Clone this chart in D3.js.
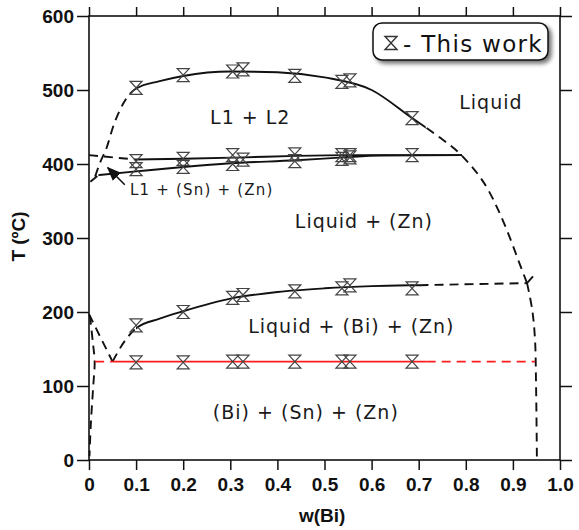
<!DOCTYPE html>
<html><head><meta charset="utf-8">
<script src="https://cdn.jsdelivr.net/npm/d3@7"></script>
<style>body{margin:0;background:#fff}svg{display:block}</style>
</head><body><svg id="c" width="579" height="530"></svg>
<script>
// ---- data ----
const xTicks = [0,0.1,0.2,0.3,0.4,0.5,0.6,0.7,0.8,0.9,1.0];
const yTicks = [0,100,200,300,400,500,600];
// measured points (This work)
const wBi     = [0.1,0.2,0.305,0.327,0.437,0.537,0.554,0.686];
const T_gap   = [503,520,525,528,519,511,513,462];
const T_upper = [404,407,412,406,413,412,412,412];
const wLower  = [0.1,0.2,0.305,0.437,0.537,0.554];
const T_lower = [393,396,400,404,407,409];
const T_liqZn = [182,200,219,223,228,232,236,232];
const T_eut   = [132,132,133,133,133,133,133,133];

// phase boundaries [w(Bi), T]
const gapCurve   = [[0.013,383],[0.023,401],[0.038,423],[0.051,450],[0.073,482],[0.1,502],[0.15,512],[0.2,519],
                    [0.3,525],[0.4,524],[0.5,517],[0.6,500],[0.686,462],[0.74,438],[0.792,411],[0.851,361],
                    [0.887,311],[0.915,264],[0.93,239]];
const rightVert  = [[0.93,239],[0.941,203],[0.947,162],[0.949,108],[0.951,0]];
const rightTick  = [[0.93,239],[0.951,254]];
const upperDash  = [[0,412],[0.1,406]];
const upperSolid = [[0.1,406],[0.2,407],[0.33,409],[0.44,411],[0.55,412],[0.792,412]];
const lowerDash  = [[0.003,376],[0.02,385]];
const lowerSolid = [[0.02,385],[0.1,390],[0.2,396],[0.3,401],[0.44,405],[0.54,409],[0.62,411.5],[0.792,412]];
const midCurve   = [[0.05,133],[0.075,160],[0.1,178],[0.15,191],[0.2,201],[0.3,218],[0.4,227],[0.5,232],
                    [0.6,235],[0.72,236.5],[0.93,239]];
const snLine     = [[0,197],[0.05,133]];
const snSolidus  = [[0.002,195],[0.008,160],[0.012,133],[0.009,100],[0.004,50],[0.001,5]];
const redDashL   = [[0.013,133],[0.05,133]];
const redSolid   = [[0.05,133],[0.717,133]];
const redDashR   = [[0.717,133],[0.947,133]];
const arrowPts   = [[0.076,372],[0.040,395]];
// solid (measured) ranges of the curved boundaries
const gapSolidRange = [0.1,0.715];
const midSolidRange = [0.1,0.72];

const labels = [
  {t:"L1 + L2", w:0.257, T:454, s:19},
  {t:"Liquid", w:0.786, T:474, s:19},
  {t:"Liquid + (Zn)", w:0.437, T:313.5, s:19},
  {t:"Liquid + (Bi) + (Zn)", w:0.338, T:171.6, s:19},
  {t:"(Bi) + (Sn) + (Zn)", w:0.263, T:55.4, s:19},
  {t:"L1 + (Sn) + (Zn)", w:0.087, T:358, s:15}
];

// ---- drawing ----
const svg = d3.select("#c");
const x = d3.scaleLinear().domain([0,1]).range([89,560]);
const y = d3.scaleLinear().domain([0,600]).range([460,16]);

const defs = svg.append("defs");
const f = defs.append("filter").attr("id","sh").attr("x","-20%").attr("y","-30%").attr("width","150%").attr("height","180%");
f.append("feDropShadow").attr("dx",3).attr("dy",3).attr("stdDeviation",2).attr("flood-color","#000").attr("flood-opacity",0.55);
defs.append("marker").attr("id","arr").attr("viewBox","0 0 10 10").attr("refX",9).attr("refY",5)
  .attr("markerWidth",9).attr("markerHeight",9).attr("orient","auto-start-reverse")
  .append("path").attr("d","M0,1 L10,5 L0,9 Z").attr("fill","#111");
function clip(id, a, b){
  defs.append("clipPath").attr("id",id).append("rect")
    .attr("x",x(a)).attr("width",x(b)-x(a)).attr("y",0).attr("height",530);
}
clip("gapIn", gapSolidRange[0], gapSolidRange[1]);
clip("gapL", -0.2, gapSolidRange[0]);
clip("gapR", gapSolidRange[1], 1.2);
clip("midIn", midSolidRange[0], midSolidRange[1]);
clip("midL", -0.2, midSolidRange[0]);
clip("midR", midSolidRange[1], 1.2);

const tickFont = "'Liberation Sans', Arial, sans-serif";
function styleAxis(g){
  g.select(".domain").remove();
  g.selectAll("line").attr("stroke","#111").attr("stroke-width",1.5);
  g.selectAll("text").attr("font-family",tickFont).attr("font-weight","bold").attr("font-size",19).attr("fill","#111");
}
const fmt = d => d===0 ? "0" : d3.format(".1f")(d);
svg.append("g").attr("transform","translate(0,460)")
  .call(d3.axisBottom(x).tickValues(xTicks).tickFormat(fmt).tickSize(10).tickPadding(8)).call(styleAxis);
svg.append("g").attr("transform","translate(0,16)")
  .call(d3.axisTop(x).tickValues(xTicks).tickFormat("").tickSize(9)).call(styleAxis);
svg.append("g").attr("transform","translate(89,0)")
  .call(d3.axisLeft(y).tickValues(yTicks).tickFormat(d3.format("d")).tickSize(12).tickPadding(3)).call(styleAxis);
svg.append("g").attr("transform","translate(560,0)")
  .call(d3.axisRight(y).tickValues(yTicks).tickFormat("").tickSize(12)).call(styleAxis);
svg.append("rect").attr("x",x(0)).attr("y",y(600)).attr("width",x(1)-x(0)).attr("height",y(0)-y(600))
  .attr("fill","none").attr("stroke","#111").attr("stroke-width",1.6);

svg.append("text").attr("transform",`translate(18,${y(302)}) rotate(-90)`).attr("text-anchor","middle")
  .attr("dominant-baseline","central").attr("font-family",tickFont).attr("font-weight","bold").attr("font-size",19)
  .attr("fill","#111").text("T (ºC)");
svg.append("text").attr("x",x(0.495)).attr("y",522).attr("text-anchor","middle")
  .attr("font-family",tickFont).attr("font-weight","bold").attr("font-size",19).attr("fill","#111").text("w(Bi)");

const lineC = d3.line().x(d=>x(d[0])).y(d=>y(d[1])).curve(d3.curveCatmullRom.alpha(0.5));
const lineM = d3.line().x(d=>x(d[0])).y(d=>y(d[1])).curve(d3.curveMonotoneX);
const lineS = d3.line().x(d=>x(d[0])).y(d=>y(d[1]));
function draw(pts, dashed, color, gen, clipId){
  svg.append("path").attr("d",(gen||lineC)(pts)).attr("fill","none")
    .attr("stroke",color||"#111").attr("stroke-width",1.9)
    .attr("stroke-dasharray",dashed?"9,6":null)
    .attr("clip-path",clipId?`url(#${clipId})`:null);
}
draw(gapCurve,false,null,lineM,"gapIn");
draw(gapCurve,true,null,lineM,"gapL");
draw(gapCurve,true,null,lineM,"gapR");
draw(rightVert,true);
draw(rightTick,true,null,lineS);
draw(upperDash,true,null,lineS);
draw(upperSolid,false,null,lineM);
draw(lowerDash,true,null,lineS);
draw(lowerSolid,false,null,lineM);
draw(midCurve,false,null,lineM,"midIn");
draw(midCurve,true,null,lineM,"midL");
draw(midCurve,true,null,lineM,"midR");
draw(snLine,true,null,lineS);
draw(snSolidus,true);
const red = "#ff1c1c";
draw(redDashL,true,red,lineS);
draw(redSolid,false,red,lineS);
draw(redDashR,true,red,lineS);

svg.append("path").attr("d",lineS(arrowPts)).attr("stroke","#111").attr("stroke-width",1.6)
  .attr("fill","none").attr("marker-end","url(#arr)");

// hourglass markers
const hg = "M-6,-6.5 H6 L-6,6.5 H6 Z";
function marks(ws, Ts){
  svg.append("g").selectAll("path").data(ws.map((w,i)=>[w,Ts[i]])).join("path")
    .attr("d",hg).attr("transform",d=>`translate(${x(d[0])},${y(d[1])})`)
    .attr("fill","none").attr("stroke","#444").attr("stroke-width",1.2);
}
marks(wBi,T_gap);
marks(wBi,T_upper);
marks(wLower,T_lower);
marks(wBi,T_liqZn);
marks(wBi,T_eut);

// region labels
const lblFont = "'DejaVu Sans', Verdana, sans-serif";
svg.append("g").selectAll("text").data(labels).join("text")
  .attr("x",d=>x(d.w)).attr("y",d=>y(d.T)).attr("font-family",lblFont).attr("font-size",d=>d.s)
  .attr("letter-spacing",d=>d.s>16?1:1.2).attr("fill","#1a1a1a").text(d=>d.t);

// legend
const lg = svg.append("g");
lg.append("rect").attr("x",373).attr("y",23).attr("width",175).attr("height",37).attr("rx",9)
  .attr("fill","#fff").attr("stroke","#111").attr("stroke-width",1.5).attr("filter","url(#sh)");
lg.append("path").attr("d",hg).attr("transform","translate(391,43)").attr("fill","none").attr("stroke","#333").attr("stroke-width",1.4);
lg.append("text").attr("x",403).attr("y",52).attr("font-family",lblFont).attr("font-size",23)
  .attr("letter-spacing",1.3).attr("fill","#111").text("- This work");
</script></body></html>
